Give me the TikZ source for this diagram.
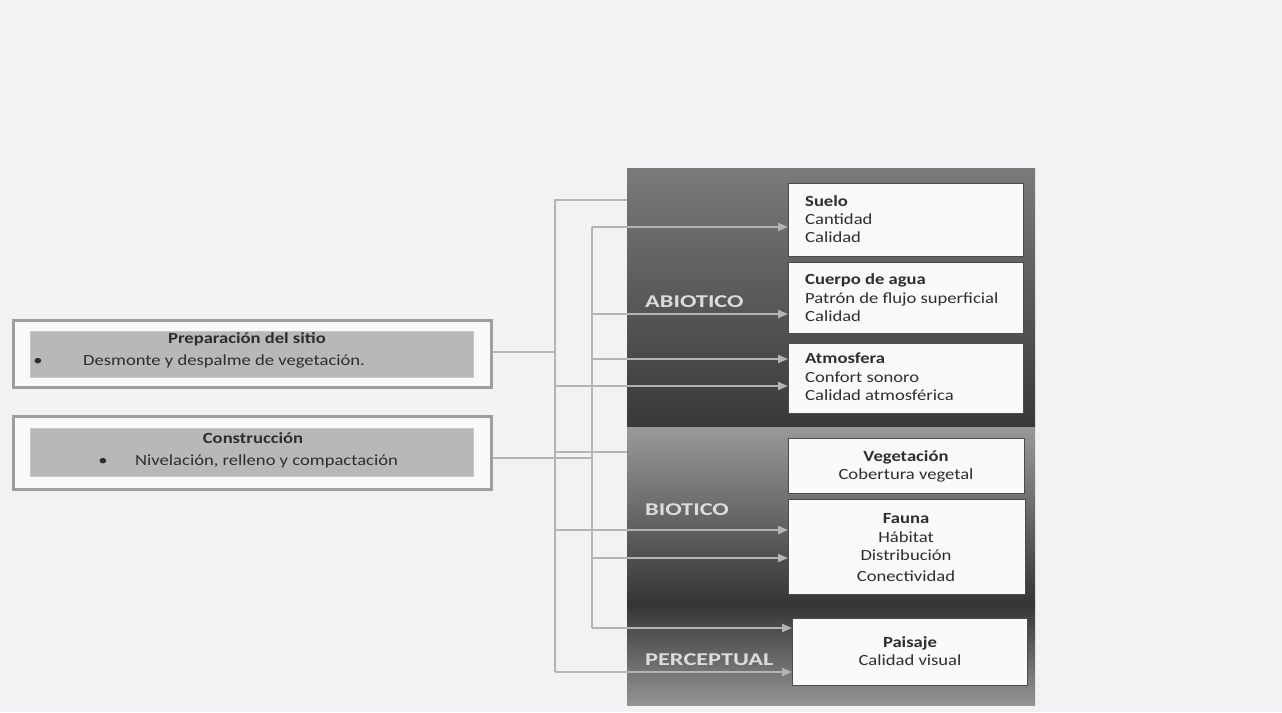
\documentclass[tikz,border=0pt]{standalone}
\usepackage{fontspec}
\setmainfont{Carlito}[FakeStretch=1.2]
\newfontfamily\labfont{Carlito}[FakeStretch=1.35]
\usetikzlibrary{arrows.meta}
\definecolor{bg}{HTML}{F2F2F4}
\definecolor{conncol}{HTML}{B4B4B4}
\definecolor{txtcol}{HTML}{2E2E2E}
\definecolor{labcol}{HTML}{DCDCDC}
\tikzset{
  conn/.style={draw=conncol, line width=2pt},
  arr/.style={conn, -{Triangle[length=10pt,width=8pt]}},
  wbox/.style={draw=black!70, line width=0.8pt, fill=white!96!gray, anchor=north west, inner sep=0pt},
  txt/.style={inner sep=0pt, text=txtcol, font=\fontsize{15.5}{18}\selectfont},
  lab/.style={inner sep=0pt, text=labcol, font=\labfont\bfseries\fontsize{18}{20}\selectfont, anchor=base west},
  outerbox/.style={draw=black!38, line width=2.6pt, fill=white!95!gray, anchor=north west, inner sep=0pt},
  innerbox/.style={draw=black!22, line width=0.6pt, fill=black!28, anchor=north west, inner sep=0pt}
}
\begin{document}
\begin{tikzpicture}[x=1pt,y=-1pt]
\useasboundingbox (0,0) rectangle (1282,712);
\fill[bg] (0,0) rectangle (1282,712);

% panel
\shade[top color=black!52, bottom color=black!78] (627,168) rectangle (1035,427);
\shade[top color=black!40, bottom color=black!80] (627,427) rectangle (1035,607);
\shade[top color=black!78, bottom color=black!42] (627,607) rectangle (1035,705);

\node[lab] (labA) at (645,307) {ABIOTICO};
\node[lab] (labB) at (645,515) {BIOTICO};
\node[lab] (labP) at (645,665) {PERCEPTUAL};

% white boxes
\node[wbox, minimum width=235pt, minimum height=73pt] (suelo) at (788,183) {};
\node[wbox, minimum width=235pt, minimum height=71pt] (agua) at (788,262) {};
\node[wbox, minimum width=235pt, minimum height=70pt] (atm) at (788,343) {};
\node[wbox, minimum width=236pt, minimum height=55pt] (veg) at (788,438) {};
\node[wbox, minimum width=237pt, minimum height=95pt] (fauna) at (788,499) {};
\node[wbox, minimum width=235pt, minimum height=67pt] (pais) at (792,618) {};

\node[txt, anchor=base west] (t1) at (805,206) {\textbf{Suelo}};
\node[txt, anchor=base west] (t2) at (805,224) {Cantidad};
\node[txt, anchor=base west] (t3) at (805,242) {Calidad};
\node[txt, anchor=base west] (t4) at (805,284) {\textbf{Cuerpo de agua}};
\node[txt, anchor=base west] (t5) at (805,303) {Patrón de flujo superficial};
\node[txt, anchor=base west] (t6) at (805,321) {Calidad};
\node[txt, anchor=base west] (t7) at (805,363) {\textbf{Atmosfera}};
\node[txt, anchor=base west] (t8) at (805,382) {Confort sonoro};
\node[txt, anchor=base west] (t9) at (805,400) {Calidad atmosférica};
\node[txt, anchor=base] (t10) at (906,461) {\textbf{Vegetación}};
\node[txt, anchor=base] (t11) at (906,479) {Cobertura vegetal};
\node[txt, anchor=base] (t12) at (906,523) {\textbf{Fauna}};
\node[txt, anchor=base] (t13) at (906,542) {Hábitat};
\node[txt, anchor=base] (t14) at (906,560) {Distribución};
\node[txt, anchor=base] (t15) at (906,581) {Conectividad};
\node[txt, anchor=base] (t16) at (910,647) {\textbf{Paisaje}};
\node[txt, anchor=base] (t17) at (910,665) {Calidad visual};

% left boxes
\node[outerbox, minimum width=478pt, minimum height=67pt] (prep) at (12,319) {};
\node[innerbox, minimum width=443pt, minimum height=46pt] (prepin) at (30,331) {};
\node[txt, anchor=base] (p1) at (247,343) {\textbf{Preparación del sitio}};
\node[txt, anchor=base] (p2) at (38,365) {\textbullet};
\node[txt, anchor=base west] (p3) at (83,365) {Desmonte y despalme de vegetación.};

\node[outerbox, minimum width=478pt, minimum height=73pt] (cons) at (12,415) {};
\node[innerbox, minimum width=443pt, minimum height=48pt] (consin) at (30,428) {};
\node[txt, anchor=base] (c1) at (253,443) {\textbf{Construcción}};
\node[txt, anchor=base] (c2) at (103,465) {\textbullet};
\node[txt, anchor=base west] (c3) at (135,465) {Nivelación, relleno y compactación};

% trunk coordinates
\coordinate (A0) at (555,200);
\coordinate (A1) at (555,672);
\coordinate (B0) at (592,227);
\coordinate (B1) at (592,628);
\coordinate (E1) at (627,200);
\coordinate (E2) at (627,452);

% connectors
\draw[conn] (E1) -- (A0) -- (A1);
\draw[conn] (B0) -- (B1);
\draw[conn] (prep.east |- 0,352) -- (555,352);
\draw[conn] (cons.east |- 0,458) -- (592,458);
\draw[conn] (555,452) -- (E2);

\draw[arr] (B0) -- (suelo.west |- B0);
\draw[arr] (592,314) -- (agua.west |- 0,314);
\draw[arr] (592,359) -- (atm.west |- 0,359);
\draw[arr] (555,386) -- (atm.west |- 0,386);
\draw[arr] (555,530) -- (fauna.west |- 0,530);
\draw[arr] (592,558) -- (fauna.west |- 0,558);
\draw[arr] (B1) -- (pais.west |- B1);
\draw[arr] (A1) -- (pais.west |- A1);
\end{tikzpicture}
\end{document}
